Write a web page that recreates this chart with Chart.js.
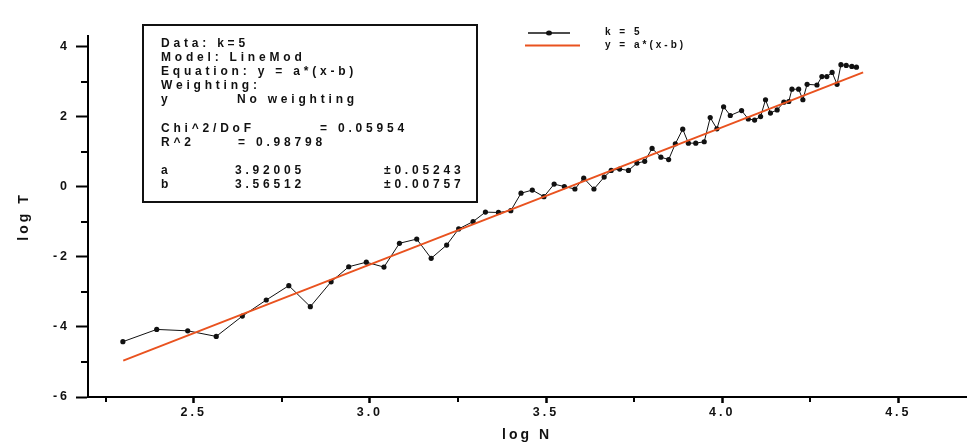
<!DOCTYPE html>
<html>
<head>
<meta charset="utf-8">
<script src="https://cdn.jsdelivr.net/npm/chart.js@4"></script>
<style>
html,body{margin:0;padding:0;background:#fff;}
#wrap{width:970px;height:446px;position:relative;}
canvas{display:block;}
</style>
</head>
<body>
<div id="wrap"><canvas id="c" width="970" height="446"></canvas></div>
<script>
// ---- data ----
const logN = [2.299, 2.395, 2.483, 2.564, 2.638, 2.706, 2.770, 2.831, 2.890, 2.940, 2.990, 3.040, 3.084, 3.133, 3.174, 3.218, 3.252, 3.293, 3.328, 3.365, 3.400, 3.429, 3.461, 3.494, 3.523, 3.552, 3.582, 3.607, 3.636, 3.665, 3.685, 3.709, 3.734, 3.758, 3.780, 3.801, 3.826, 3.848, 3.867, 3.888, 3.904, 3.925, 3.949, 3.966, 3.985, 4.004, 4.023, 4.055, 4.074, 4.092, 4.109, 4.123, 4.137, 4.156, 4.175, 4.189, 4.198, 4.217, 4.229, 4.241, 4.269, 4.283, 4.297, 4.312, 4.326, 4.337, 4.352, 4.368, 4.381];
const logT = [-4.42, -4.07, -4.11, -4.27, -3.69, -3.23, -2.82, -3.42, -2.71, -2.28, -2.15, -2.29, -1.61, -1.49, -2.04, -1.66, -1.20, -0.99, -0.72, -0.73, -0.68, -0.18, -0.09, -0.28, 0.08, 0.01, -0.06, 0.25, -0.06, 0.28, 0.47, 0.51, 0.47, 0.68, 0.73, 1.10, 0.85, 0.78, 1.23, 1.65, 1.25, 1.25, 1.29, 1.98, 1.66, 2.29, 2.04, 2.18, 1.94, 1.91, 2.01, 2.49, 2.11, 2.20, 2.42, 2.44, 2.79, 2.79, 2.49, 2.93, 2.91, 3.15, 3.15, 3.27, 2.93, 3.49, 3.47, 3.44, 3.42];
const fitX = [2.30, 4.40];
const fitY = [-4.96, 3.27];
const xTicks = [2.5, 3.0, 3.5, 4.0, 4.5];
const xMinor = [2.25, 2.75, 3.25, 3.75, 4.25];
const yTicks = [-6, -4, -2, 0, 2, 4];
const yMinor = [-5, -3, -1, 1, 3];
const seriesLabels = ['k = 5', 'y = a*(x-b)'];
const boxLines = [
  ['Data: k=5'],
  ['Model: LineMod'],
  ['Equation: y = a*(x-b)'],
  ['Weighting:'],
  ['y', 'No weighting'],
  [],
  ['Chi^2/DoF', '= 0.05954'],
  ['R^2', '= 0.98798'],
  [],
  ['a', '3.92005', '\u00b10.05243'],
  ['b', '3.56512', '\u00b10.00757']
];

const FONT = '"Liberation Sans", Arial, sans-serif';
const FIT_COLOR = '#e9521f';

const extras = {
  id: 'extras',
  beforeDraw(chart) {
    chart.ctx.letterSpacing = '3px';
  },
  afterDraw(chart) {
    const ctx = chart.ctx;
    const xs = chart.scales.x, ys = chart.scales.y;
    ctx.save();
    // minor ticks
    ctx.strokeStyle = '#000';
    ctx.lineWidth = 2;
    ctx.beginPath();
    xMinor.forEach(v => {
      const px = Math.round(xs.getPixelForValue(v));
      ctx.moveTo(px, ys.bottom); ctx.lineTo(px, ys.bottom + 5);
    });
    yMinor.forEach(v => {
      const py = Math.round(ys.getPixelForValue(v));
      ctx.moveTo(xs.left, py); ctx.lineTo(xs.left - 7, py);
    });
    ctx.stroke();

    // text box
    ctx.lineWidth = 2;
    ctx.strokeStyle = '#111';
    ctx.strokeRect(143, 25, 334, 177);
    ctx.fillStyle = '#111';
    ctx.font = 'bold 12px ' + FONT;
    ctx.letterSpacing = '3.8px';
    ctx.textBaseline = 'middle';
    ctx.textAlign = 'left';
    const colX = {
      4: [161, 237],
      6: [161, 320],
      7: [161, 238],
      9: [161, 235, 384],
      10: [161, 235, 384]
    };
    boxLines.forEach((parts, i) => {
      const y = 43.5 + i * 14.15;
      const cx = colX[i] || [161];
      parts.forEach((t, j) => ctx.fillText(t, cx[j], y));
    });

    // legend
    ctx.lineWidth = 1.5;
    ctx.strokeStyle = '#111';
    ctx.beginPath(); ctx.moveTo(528, 33); ctx.lineTo(570, 33); ctx.stroke();
    ctx.beginPath(); ctx.ellipse(549, 33, 3, 2.5, 0, 0, Math.PI * 2); ctx.fill();
    ctx.lineWidth = 2;
    ctx.strokeStyle = FIT_COLOR;
    ctx.beginPath(); ctx.moveTo(525, 45.5); ctx.lineTo(580, 45.5); ctx.stroke();
    ctx.fillStyle = '#111';
    ctx.font = 'bold 10px ' + FONT;
    ctx.letterSpacing = '3px';
    ctx.fillText(seriesLabels[0], 605, 32.5);
    ctx.fillText(seriesLabels[1], 605, 45.5);
    ctx.restore();
    ctx.letterSpacing = '0px';
  }
};

new Chart(document.getElementById('c'), {
  type: 'scatter',
  data: {
    datasets: [
      {
        label: seriesLabels[1],
        data: fitX.map((x, i) => ({x: x, y: fitY[i]})),
        showLine: true,
        borderColor: FIT_COLOR,
        borderWidth: 2,
        pointRadius: 0,
        order: 0
      },
      {
        label: seriesLabels[0],
        data: logN.map((x, i) => ({x: x, y: logT[i]})),
        showLine: true,
        borderColor: '#111',
        borderWidth: 1,
        pointRadius: 2.6,
        pointBackgroundColor: '#111',
        pointBorderWidth: 0,
        order: 1
      }
    ]
  },
  options: {
    responsive: false,
    animation: false,
    devicePixelRatio: 1,
    layout: {padding: {top: 36, right: 0, left: 0, bottom: 0}},
    plugins: {legend: {display: false}, tooltip: {enabled: false}},
    scales: {
      x: {
        type: 'linear',
        min: 2.2,
        max: 4.692,
        afterBuildTicks: s => { s.ticks = xTicks.map(v => ({value: v})); },
        afterFit: s => { s.height = 49; },
        border: {display: true, color: '#000', width: 2},
        grid: {drawOnChartArea: false, drawTicks: true, tickLength: 6, tickColor: '#000', tickWidth: 2.5},
        ticks: {
          color: '#111',
          font: {family: FONT, size: 12.5, weight: 'bold'},
          padding: 2,
          maxRotation: 0,
          autoSkip: false,
          callback: v => Number(v).toFixed(1)
        },
        title: {display: true, text: 'log N', color: '#111', font: {family: FONT, size: 14, weight: 'bold'}, padding: {top: 0, bottom: 2}}
      },
      y: {
        type: 'linear',
        min: -6,
        max: 4.31,
        afterBuildTicks: s => { s.ticks = yTicks.map(v => ({value: v})); },
        afterFit: s => { s.width = 88; },
        border: {display: true, color: '#000', width: 2},
        grid: {drawOnChartArea: false, drawTicks: true, tickLength: 12, tickColor: '#000', tickWidth: 2},
        ticks: {
          color: '#111',
          font: {family: FONT, size: 12.5, weight: 'bold'},
          padding: 6,
          autoSkip: false,
          callback: v => String(v)
        },
        title: {display: true, text: 'log T', color: '#111', font: {family: FONT, size: 14, weight: 'bold'}, padding: {top: 16, bottom: 0}}
      }
    }
  },
  plugins: [extras]
});
</script>
</body>
</html>
